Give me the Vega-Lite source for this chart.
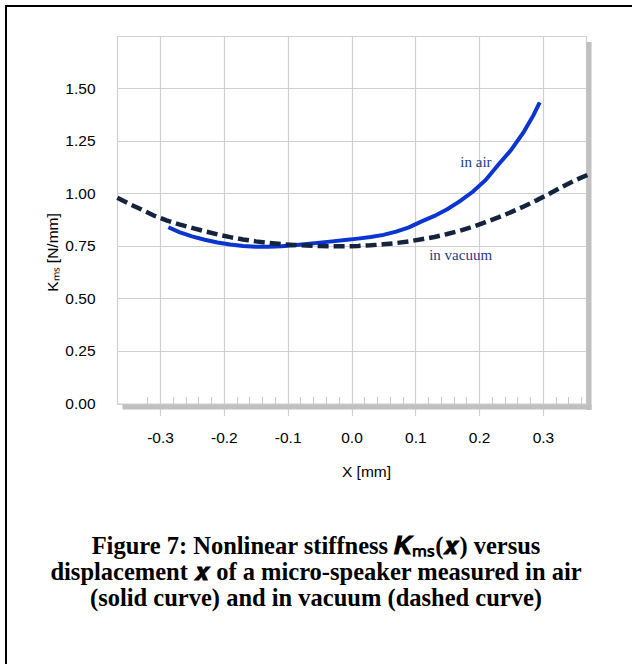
{
  "$schema": "https://vega.github.io/schema/vega-lite/v6.json",
  "width": 626,
  "height": 658,
  "autosize": "none",
  "padding": {"left": 6, "top": 6, "right": 0, "bottom": 0},
  "background": "white",
  "title": {
    "text": ["Figure 7: Nonlinear stiffness \ud835\udc72\u2098\u209b(\ud835\udc99) versus", "displacement \ud835\udc99 of a micro-speaker measured in air", "(solid curve) and in vacuum (dashed curve)"],
    "orient": "bottom",
    "frame": "group",
    "anchor": "middle",
    "offset": -129,
    "baseline": "top",
    "font": "Liberation Serif",
    "fontSize": 24.5,
    "fontWeight": "bold",
    "lineHeight": 26,
    "color": "#000000",
    "dx": -3
  },
  "datasets": {
    "air": [
      {"x": -0.287, "k": 0.838}, {"x": -0.27, "k": 0.815}, {"x": -0.25, "k": 0.795}, {"x": -0.23, "k": 0.779},
      {"x": -0.21, "k": 0.766}, {"x": -0.19, "k": 0.756}, {"x": -0.17, "k": 0.749}, {"x": -0.15, "k": 0.745},
      {"x": -0.13, "k": 0.745}, {"x": -0.11, "k": 0.748}, {"x": -0.09, "k": 0.753}, {"x": -0.07, "k": 0.759},
      {"x": -0.05, "k": 0.765}, {"x": -0.03, "k": 0.771}, {"x": -0.01, "k": 0.777}, {"x": 0.01, "k": 0.784},
      {"x": 0.03, "k": 0.792}, {"x": 0.05, "k": 0.802}, {"x": 0.07, "k": 0.817}, {"x": 0.09, "k": 0.838},
      {"x": 0.11, "k": 0.866}, {"x": 0.13, "k": 0.892}, {"x": 0.15, "k": 0.924}, {"x": 0.17, "k": 0.962},
      {"x": 0.19, "k": 1.007}, {"x": 0.21, "k": 1.062}, {"x": 0.23, "k": 1.135}, {"x": 0.25, "k": 1.205},
      {"x": 0.27, "k": 1.292}, {"x": 0.285, "k": 1.37}, {"x": 0.295, "k": 1.432}
    ],
    "vacuum": [
      {"x": -0.367, "k": 0.978}, {"x": -0.35, "k": 0.952}, {"x": -0.33, "k": 0.924}, {"x": -0.31, "k": 0.894},
      {"x": -0.29, "k": 0.871}, {"x": -0.27, "k": 0.852}, {"x": -0.25, "k": 0.835}, {"x": -0.23, "k": 0.819},
      {"x": -0.21, "k": 0.804}, {"x": -0.19, "k": 0.791}, {"x": -0.17, "k": 0.78}, {"x": -0.15, "k": 0.771},
      {"x": -0.13, "k": 0.764}, {"x": -0.11, "k": 0.758}, {"x": -0.09, "k": 0.754}, {"x": -0.07, "k": 0.751},
      {"x": -0.05, "k": 0.749}, {"x": -0.03, "k": 0.748}, {"x": -0.01, "k": 0.748}, {"x": 0.01, "k": 0.749},
      {"x": 0.03, "k": 0.752}, {"x": 0.05, "k": 0.757}, {"x": 0.07, "k": 0.763}, {"x": 0.09, "k": 0.771},
      {"x": 0.11, "k": 0.781}, {"x": 0.13, "k": 0.792}, {"x": 0.15, "k": 0.806}, {"x": 0.17, "k": 0.822},
      {"x": 0.19, "k": 0.84}, {"x": 0.21, "k": 0.862}, {"x": 0.23, "k": 0.885}, {"x": 0.25, "k": 0.91},
      {"x": 0.27, "k": 0.937}, {"x": 0.29, "k": 0.966}, {"x": 0.31, "k": 0.997}, {"x": 0.33, "k": 1.03},
      {"x": 0.35, "k": 1.061}, {"x": 0.376, "k": 1.095}
    ],
    "labels": [
      {"label": "in air", "x": 0.195, "k": 1.125},
      {"label": "in vacuum", "x": 0.171, "k": 0.682}
    ]
  },
  "resolve": {"axis": {"x": "independent", "y": "independent"}},
  "layer": [
    {
      "data": {"name": "air"},
      "mark": {"type": "line", "color": "#0a35d0", "strokeWidth": 4},
      "encoding": {
        "x": {
          "field": "x", "type": "quantitative",
          "scale": {"domain": [-0.3675, 0.3675], "range": [111, 580], "nice": false, "zero": false},
          "axis": {
            "orient": "bottom", "offset": -260.5,
            "values": [-0.3, -0.2, -0.1, 0, 0.1, 0.2, 0.3],
            "labelExpr": "replace(format(datum.value, '.1f'), '\u2212', '-')",
            "grid": false,
            "tickSize": 12, "tickWidth": 1.2, "tickColor": "#d0d0d0",
            "domainColor": "#d0d0d0", "domainWidth": 1.2,
            "labelPadding": 15, "labelFont": "Liberation Sans", "labelFontSize": 15.5, "labelColor": "#000000",
            "labelFlush": false, "labelOverlap": false,
            "title": "X  [mm]", "titleFont": "Liberation Sans", "titleFontSize": 15.5, "titleFontWeight": "normal",
            "titleColor": "#000000", "titleX": 360, "titleY": 73, "titleAlign": "center", "titleBaseline": "alphabetic"
          }
        },
        "y": {
          "field": "k", "type": "quantitative",
          "scale": {"domain": [0, 1.75], "range": [397.5, 29.5], "nice": false, "zero": false},
          "axis": {
            "orient": "left", "offset": -111,
            "values": [0, 0.25, 0.5, 0.75, 1, 1.25, 1.5, 1.75],
            "labelExpr": "datum.value > 1.6 ? '' : format(datum.value, '.2f')",
            "grid": true, "gridColor": "#d0d0d0", "gridWidth": 1.2,
            "ticks": false,
            "domainColor": "#d0d0d0", "domainWidth": 1.2,
            "labelPadding": 22, "labelFont": "Liberation Sans", "labelFontSize": 15.5, "labelColor": "#000000",
            "labelFlush": false, "labelOverlap": false,
            "title": "K\u2098\u209b  [N/mm]", "titleFont": "Liberation Sans", "titleFontSize": 15.5, "titleFontWeight": "normal",
            "titleColor": "#000000", "titleX": -60, "titleY": 246, "titleAngle": 270, "titleAlign": "center", "titleBaseline": "alphabetic"
          }
        }
      }
    },
    {
      "data": {"name": "vacuum"},
      "mark": {"type": "line", "color": "#14243e", "strokeWidth": 4.5, "strokeDash": [11, 5]},
      "encoding": {
        "x": {
          "field": "x", "type": "quantitative",
          "scale": {"domain": [-0.3675, 0.3675], "range": [111, 580], "nice": false, "zero": false},
          "axis": {
            "orient": "bottom", "offset": -260.5,
            "values": [-0.32, -0.28, -0.26, -0.24, -0.22, -0.18, -0.16, -0.14, -0.12, -0.08, -0.06, -0.04, -0.02, 0.02, 0.04, 0.06, 0.08, 0.12, 0.14, 0.16, 0.18, 0.22, 0.24, 0.26, 0.28, 0.32, 0.34, 0.36],
            "grid": false, "labels": false, "domain": false,
            "tickSize": -7, "tickColor": "#c8c8c8", "tickWidth": 1, "title": null
          }
        },
        "y": {
          "field": "k", "type": "quantitative",
          "scale": {"domain": [0, 1.75], "range": [397.5, 29.5], "nice": false, "zero": false},
          "axis": {
            "orient": "right", "offset": -46,
            "grid": false, "labels": false, "ticks": false,
            "domainColor": "#d0d0d0", "domainWidth": 1.2, "title": null
          }
        }
      }
    },
    {
      "data": {"name": "labels"},
      "transform": [{"filter": "datum.label == 'in air'"}],
      "mark": {"type": "text", "font": "Liberation Serif", "fontSize": 15, "color": "#1f3c88", "align": "center", "baseline": "alphabetic"},
      "encoding": {
        "text": {"field": "label"},
        "x": {
          "field": "x", "type": "quantitative",
          "scale": {"domain": [-0.3675, 0.3675], "range": [111, 580], "nice": false, "zero": false},
          "axis": {
            "orient": "top", "offset": 0,
            "values": [-0.3, -0.2, -0.1, 0, 0.1, 0.2, 0.3],
            "grid": true, "gridColor": "#d0d0d0", "gridWidth": 1.2,
            "labels": false, "ticks": false, "domain": false, "title": null
          }
        },
        "y": {
          "field": "k", "type": "quantitative",
          "scale": {"domain": [0, 1.75], "range": [397.5, 29.5], "nice": false, "zero": false},
          "axis": {
            "orient": "right", "offset": -43.5, "position": 6,
            "grid": false, "labels": false, "ticks": false,
            "domainColor": "#c0c0c0", "domainWidth": 5, "title": null
          }
        }
      }
    },
    {
      "data": {"name": "labels"},
      "transform": [{"filter": "datum.label == 'in vacuum'"}],
      "mark": {"type": "text", "font": "Liberation Serif", "fontSize": 15, "color": "#1f3c88", "align": "center", "baseline": "alphabetic"},
      "encoding": {
        "text": {"field": "label"},
        "x": {
          "field": "x", "type": "quantitative",
          "scale": {"domain": [-0.3675, 0.3675], "range": [111, 580], "nice": false, "zero": false},
          "axis": {
            "orient": "bottom", "offset": -257.5, "position": 5,
            "grid": false, "labels": false, "ticks": false,
            "domainColor": "#c0c0c0", "domainWidth": 5, "title": null
          }
        },
        "y": {
          "field": "k", "type": "quantitative",
          "scale": {"domain": [0, 1.75], "range": [397.5, 29.5], "nice": false, "zero": false},
          "axis": null
        }
      }
    }
  ],
  "config": {
    "view": {"stroke": "#000000", "strokeWidth": 2, "strokeDash": [626, 1284, 658]},
    "axis": {"labelFont": "Liberation Sans", "titleFont": "Liberation Sans"}
  }
}
